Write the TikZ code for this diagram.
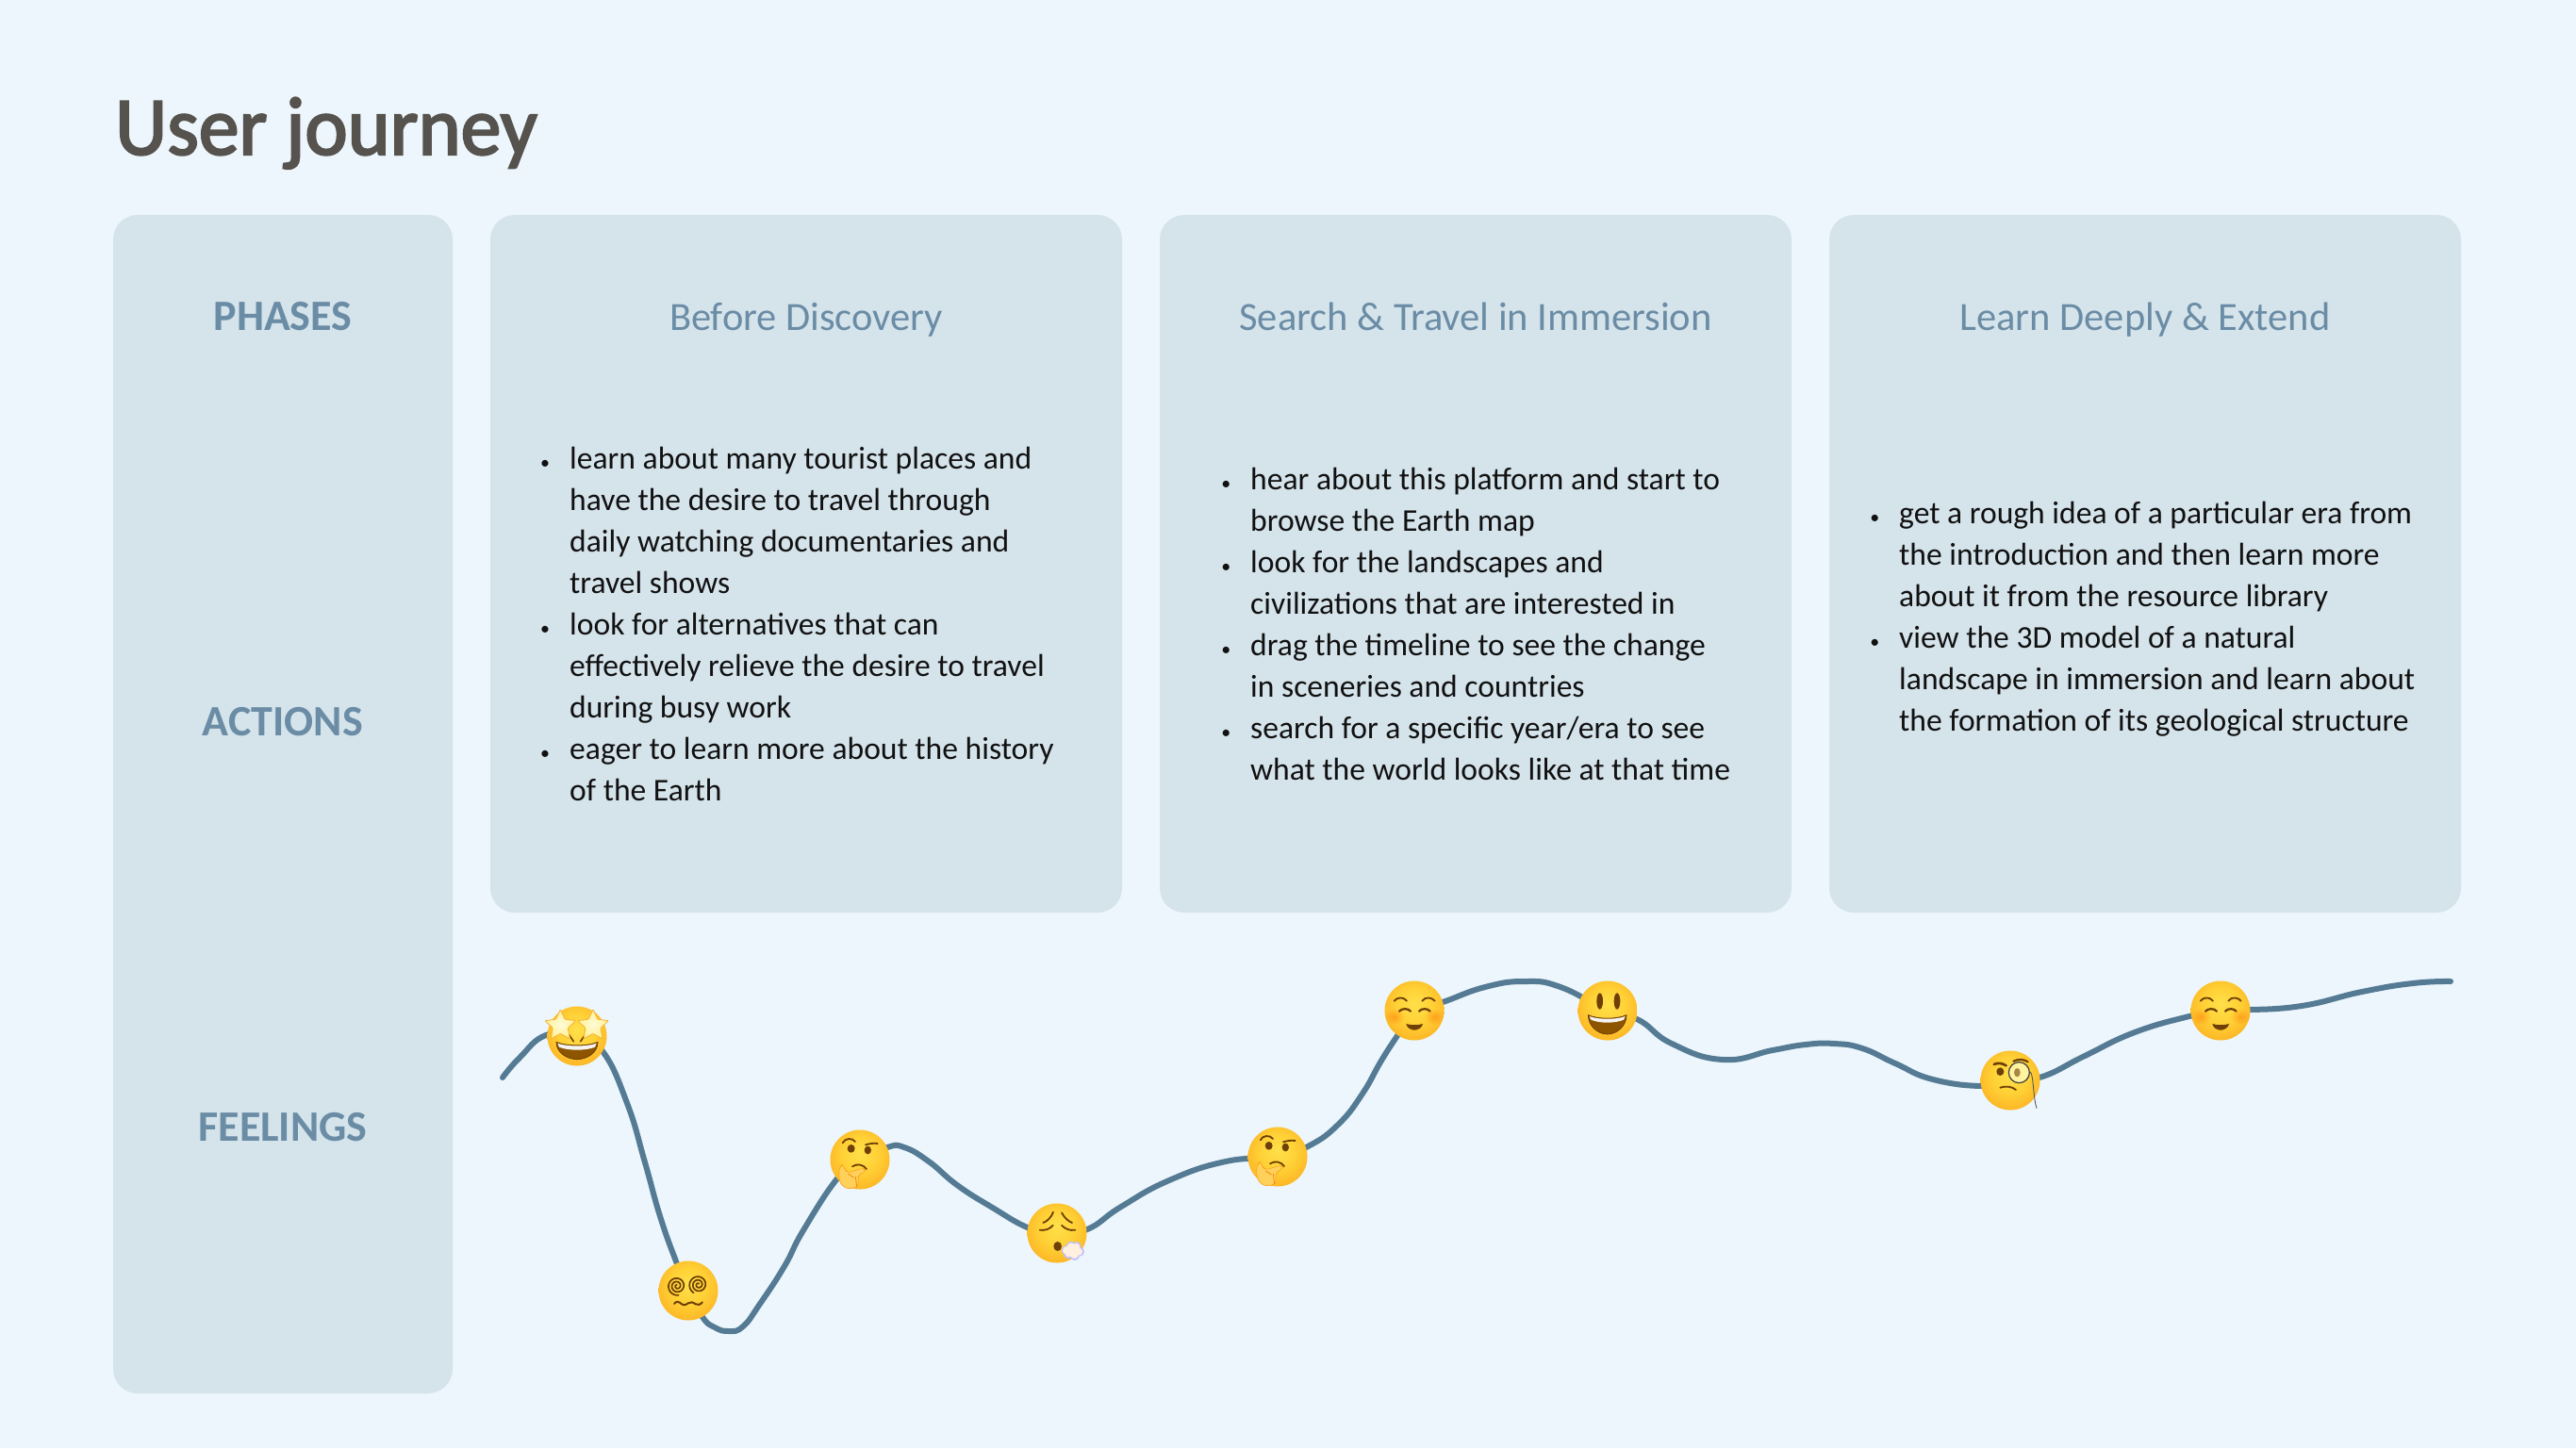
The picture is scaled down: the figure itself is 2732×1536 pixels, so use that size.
\documentclass[tikz,border=0pt]{standalone}
\usepackage{fontspec}
\setmainfont{Carlito}
\newfontfamily\titlefont[FakeStretch=0.975,FakeBold=2.5]{Carlito}
\usetikzlibrary{fadings}
\tikzfading[name=blushfade,inner color=transparent!0,outer color=transparent!100]
\definecolor{pagebg}{HTML}{ECF6FC}
\definecolor{panel}{HTML}{D5E3EB}
\definecolor{heading}{HTML}{6A8CA5}
\definecolor{titlecol}{HTML}{56524D}
\definecolor{bodycol}{HTML}{111111}
\definecolor{curvecol}{HTML}{547A94}
\definecolor{feat}{HTML}{6E3F06}
\definecolor{mouthc}{HTML}{8E5500}
\definecolor{handc}{HTML}{FFD05A}
\definecolor{faceA}{HTML}{FFE04A}
\definecolor{faceB}{HTML}{FFD136}
\definecolor{faceC}{HTML}{FDB726}
\definecolor{faceD}{HTML}{F9A01A}
\definecolor{faceE}{HTML}{F08B0E}
\definecolor{faceF}{HTML}{E87E08}
\definecolor{starA}{HTML}{FFFBD8}
\definecolor{starB}{HTML}{FFF3A0}
\definecolor{starC}{HTML}{FFD858}
\definecolor{starD}{HTML}{F5B035}
\pgfdeclareradialshading{face}{\pgfpoint{0bp}{6bp}}{color(0bp)=(faceA); color(15bp)=(faceB); color(28bp)=(faceC); color(40bp)=(faceD); color(50bp)=(faceE); color(56bp)=(faceF)}
\pgfdeclareradialshading{stareye}{\pgfpoint{0bp}{0bp}}{color(0bp)=(starA); color(20bp)=(starB); color(36bp)=(starC); color(50bp)=(starD)}
\pgfdeclarelayer{back}
\pgfsetlayers{back,main}
\tikzset{
  x=1pt,y=-1pt,
  panelbox/.style={fill=panel,rounded corners=26pt,inner sep=0pt},
  rowlabel/.style={text=heading,inner sep=0pt,anchor=base,font=\fontsize{46}{46}\selectfont\bfseries},
  phasehead/.style={text=heading,inner sep=0pt,anchor=base,font=\fontsize{42.5}{42.5}\selectfont},
  bodytext/.style={text=bodycol,inner sep=0pt,anchor=base west},
  emoji/.style={circle,minimum size=63pt,inner sep=0pt,shading=face},
  local/.style n args={3}{shift={(#1)},xshift=-#2pt,yshift=#3pt,x=0.3333pt,y=-0.3333pt},
  featline/.style={draw=feat,line width=1.8pt,line cap=round},
}
\newcommand{\bul}{\leavevmode\llap{\fontsize{20}{20}\selectfont •\hspace{21pt}}}
\newcommand{\bodyblock}[1]{\parbox[t]{600pt}{\fontsize{33.6}{44}\selectfont\raggedright #1}}
\newcommand{\stareye}[2]{%
  \shade[shading=stareye,draw=starD,line width=0.8pt,line join=round,rounded corners=1pt]
    plot[samples at={0,1,...,9}] ({#1+(mod(\x,2)==0?52:25)*cos(90+36*\x)},{#2-(mod(\x,2)==0?52:25)*sin(90+36*\x)}) -- cycle;}
\newcommand{\openmouth}[7]{% x1 ytop x2 cx ybot ctrl teeth
  \fill[mouthc,draw=feat,line width=0.8pt] (#1,#2) .. controls (#1+30,#2+14) and (#3-30,#2+14) .. (#3,#2) .. controls (#3,#2+35) and (#4+30,#5) .. (#4,#5) .. controls (#4-30,#5) and (#1,#2+35) .. (#1,#2) -- cycle;
  \fill[white!96!black] (#1+4,#2+4) .. controls (#1+30,#2+15) and (#3-30,#2+15) .. (#3-4,#2+4) -- (#3-9,#2+#7) .. controls (#3-35,#2+#7+12) and (#1+35,#2+#7+12) .. (#1+9,#2+#7) -- cycle;}

\begin{document}
\begin{tikzpicture}
\useasboundingbox (0,0) rectangle (2732,1536);
\begin{pgfonlayer}{back}
\fill[pagebg] (0,0) rectangle (2732,1536);
\end{pgfonlayer}

% panels
\node[panelbox,minimum width=360pt,minimum height=1250pt] (lab) at (300,853) {};
\node[panelbox,minimum width=670pt,minimum height=740pt] (p1) at (855,598) {};
\node[panelbox,minimum width=670pt,minimum height=740pt] (p2) at (1565,598) {};
\node[panelbox,minimum width=670pt,minimum height=740pt] (p3) at (2275,598) {};

% title
\node[anchor=base west,inner sep=0pt,text=titlecol,font=\titlefont\fontsize{88}{88}\selectfont] (title) at (122,164) {User journey};

% row labels
\node[rowlabel] (lphases) at (300,350) {PHASES};
\node[rowlabel] (lactions) at (300,780) {ACTIONS};
\node[rowlabel] (lfeelings) at (300,1210) {FEELINGS};

% phase headings
\node[phasehead] (h1) at (855,350) {Before Discovery};
\node[phasehead] (h2) at (1565,350) {Search \& Travel in Immersion};
\node[phasehead] (h3) at (2275,350) {Learn Deeply \& Extend};

% body text
\node[bodytext] (b1) at (604,497) {\bodyblock{%
\bul learn about many tourist places and\\
have the desire to travel through\\
daily watching documentaries and\\
travel shows\\
\bul look for alternatives that can\\
effectively relieve the desire to travel\\
during busy work\\
\bul eager to learn more about the history\\
of the Earth}};
\node[bodytext] (b2) at (1326,519) {\bodyblock{%
\bul hear about this platform and start to\\
browse the Earth map\\
\bul look for the landscapes and\\
civilizations that are interested in\\
\bul drag the timeline to see the change\\
in sceneries and countries\\
\bul search for a specific year/era to see\\
what the world looks like at that time}};
\node[bodytext] (b3) at (2014,555) {\bodyblock{%
\bul get a rough idea of a particular era from\\
the introduction and then learn more\\
about it from the resource library\\
\bul view the 3D model of a natural\\
landscape in immersion and learn about\\
the formation of its geological structure}};

% emoji faces
\node[emoji] (e1) at (612,1099) {};
\node[emoji] (e2) at (730,1369) {};
\node[emoji] (e3) at (912,1230) {};
\node[emoji] (e4) at (1121,1308) {};
\node[emoji] (e5) at (1355,1227) {};
\node[emoji] (e6) at (1500,1072) {};
\node[emoji] (e7) at (1705,1072) {};
\node[emoji] (e8) at (2132,1146) {};
\node[emoji] (e9) at (2355,1072) {};
\coordinate (cstart) at (533,1143);
\coordinate (cend) at (2599,1041);

% curve
\begin{pgfonlayer}{back}
\draw[curvecol,line width=6pt,line cap=round,line join=round] plot[smooth,tension=0.8] coordinates {
(cstart) (551,1122) (579,1098) (e1.center) (639,1115) (665,1170) (684,1233) (700,1290) (717,1338)
(e2.center) (745,1397) (758,1408) (773,1412) (788,1407) (806,1383) (832,1343) (852,1305) (888,1250)
(e3.center) (941,1217) (959,1217) (985,1232) (1015,1257) (1051,1280) (1092,1303)
(e4.center) (1153,1304) (1189,1280) (1240,1252) (1300,1232)
(e5.center) (1389,1215) (1420,1192) (1445,1160) (1465,1125) (1483,1097)
(e6.center) (1530,1063) (1575,1047) (1617,1041) (1655,1047)
(e7.center) (1738,1082) (1773,1107) (1827,1124) (1880,1114) (1915,1108) (1945,1107) (1975,1112) (2010,1128) (2050,1145) (2104,1152)
(e8.center) (2166,1142) (2211,1120) (2264,1095) (2322,1078)
(e9.center) (2434,1068) (2505,1052) (2559,1043) (cend)};
\end{pgfonlayer}

% star eyes
\begin{scope}[local={e1.center}{47}{43.67}]
\openmouth{75}{150}{207}{141}{205}{0}{16}
\draw[featline,line width=1.6pt] (112,122) -- (130,148);
\draw[featline,line width=1.6pt] (170,122) -- (152,148);
\stareye{88}{98}
\stareye{192}{98}
\end{scope}

% spiral eyes
\begin{scope}[local={e2.center}{40}{41}]
\draw[featline,line width=1.7pt] plot[smooth,domain=0:900,samples=80] ({84+(3+0.03*\x)*cos(\x+100)},{108-(3+0.03*\x)*sin(\x+100)});
\draw[featline,line width=1.7pt] plot[smooth,domain=0:900,samples=80] ({152+(3+0.03*\x)*cos(\x+60)},{104-(3+0.03*\x)*sin(\x+60)});
\draw[featline,line width=2pt] (75,165) .. controls (82,155) and (90,158) .. (98,165) .. controls (106,172) and (114,168) .. (120,163) .. controls (127,157) and (135,160) .. (143,166) .. controls (150,170) and (158,168) .. (165,160);
\end{scope}

% thinking faces
\begin{scope}[local={e3.center}{40}{41}]
\fill[feat] (92,88) ellipse [x radius=12,y radius=13];
\fill[feat] (145,93) ellipse [x radius=11,y radius=13];
\draw[featline] (65,70) .. controls (72,55) and (95,52) .. (105,66);
\draw[featline] (138,76) .. controls (150,72) and (165,70) .. (176,72);
\draw[featline] (96,145) .. controls (110,135) and (130,138) .. (141,153);
\fill[handc,draw=faceD,line width=0.6pt,rounded corners=3pt] (56,145) -- (66,139) -- (72,155) -- (82,165) -- (128,150) -- (140,158) -- (112,176) -- (116,192) -- (110,212) -- (78,216) -- (58,200) -- (52,172) -- cycle;
\draw[faceE,line width=0.8pt] (106,177) -- (110,210);
\draw[faceE,line width=0.8pt] (82,168) -- (100,180);
\end{scope}
\begin{scope}[local={e5.center}{40}{41}]
\fill[feat] (92,88) ellipse [x radius=12,y radius=13];
\fill[feat] (145,93) ellipse [x radius=11,y radius=13];
\draw[featline] (65,70) .. controls (72,55) and (95,52) .. (105,66);
\draw[featline] (138,76) .. controls (150,72) and (165,70) .. (176,72);
\draw[featline] (96,145) .. controls (110,135) and (130,138) .. (141,153);
\fill[handc,draw=faceD,line width=0.6pt,rounded corners=3pt] (56,145) -- (66,139) -- (72,155) -- (82,165) -- (128,150) -- (140,158) -- (112,176) -- (116,192) -- (110,212) -- (78,216) -- (58,200) -- (52,172) -- cycle;
\draw[faceE,line width=0.8pt] (106,177) -- (110,210);
\draw[faceE,line width=0.8pt] (82,168) -- (100,180);
\end{scope}

% exhaling face
\begin{scope}[local={e4.center}{40}{41}]
\draw[featline] (76,90) .. controls (90,85) and (102,72) .. (108,56);
\draw[featline] (135,58) .. controls (142,72) and (155,85) .. (168,90);
\draw[featline] (65,113) .. controls (80,116) and (98,110) .. (107,98);
\draw[featline] (135,98) .. controls (145,110) and (162,116) .. (178,113);
\fill[feat] (122,165) ellipse [x radius=13,y radius=15];
\fill[blue!25!white] (150,178) circle (16) (165,165) circle (16) (182,165) circle (15) (192,182) circle (15) (176,194) circle (16) (156,191) circle (14);
\fill[orange!12!white] (151,178) circle (13) (165,167) circle (13) (181,167) circle (12) (189,182) circle (12) (175,191) circle (13) (157,188) circle (11) (170,178) circle (14);
\end{scope}

% smiling relaxed faces
\begin{scope}[local={e6.center}{40}{41}]
\fill[orange!80!red,opacity=.4,path fading=blushfade] (57,142) ellipse [x radius=32,y radius=26];
\fill[orange!80!red,opacity=.4,path fading=blushfade] (183,142) ellipse [x radius=32,y radius=26];
\draw[featline] (56,92) .. controls (65,80) and (85,78) .. (96,92);
\draw[featline] (145,92) .. controls (155,78) and (175,80) .. (185,92);
\draw[featline,line width=2.2pt] (72,125) .. controls (80,115) and (100,115) .. (108,125);
\draw[featline,line width=2.2pt] (135,125) .. controls (143,115) and (162,115) .. (170,125);
\fill[feat] (94,165) .. controls (110,170) and (130,170) .. (147,165) .. controls (145,178) and (130,185) .. (120,185) .. controls (110,185) and (96,178) .. (94,165) -- cycle;
\end{scope}
\begin{scope}[local={e9.center}{40}{41}]
\fill[orange!80!red,opacity=.4,path fading=blushfade] (57,142) ellipse [x radius=32,y radius=26];
\fill[orange!80!red,opacity=.4,path fading=blushfade] (183,142) ellipse [x radius=32,y radius=26];
\draw[featline] (56,92) .. controls (65,80) and (85,78) .. (96,92);
\draw[featline] (145,92) .. controls (155,78) and (175,80) .. (185,92);
\draw[featline,line width=2.2pt] (72,125) .. controls (80,115) and (100,115) .. (108,125);
\draw[featline,line width=2.2pt] (135,125) .. controls (143,115) and (162,115) .. (170,125);
\fill[feat] (94,165) .. controls (110,170) and (130,170) .. (147,165) .. controls (145,178) and (130,185) .. (120,185) .. controls (110,185) and (96,178) .. (94,165) -- cycle;
\end{scope}

% grinning face
\begin{scope}[local={e7.center}{40}{41}]
\fill[feat] (95,93) ellipse [x radius=10,y radius=26];
\fill[feat] (150,93) ellipse [x radius=10,y radius=26];
\openmouth{58}{137}{180}{119}{198}{0}{15}
\end{scope}

% monocle face
\begin{scope}[local={e8.center}{40}{41}]
\draw[featline,line width=2.6pt] (68,72) .. controls (80,66) and (95,68) .. (107,76);
\draw[featline,line width=2.2pt] (130,62) .. controls (145,54) and (165,56) .. (176,64);
\fill[feat] (88,95) ellipse [x radius=12,y radius=13];
\fill[starB,draw=black!75,line width=1.2pt] (148,98) circle (33);
\fill[feat!60!starB] (142,98) ellipse [x radius=10,y radius=14];
\draw[featline] (88,146) .. controls (105,140) and (125,142) .. (138,153);
\draw[black!65,line width=0.9pt] (184,96) .. controls (195,110) and (192,175) .. (204,212);
\end{scope}
\end{tikzpicture}
\end{document}
